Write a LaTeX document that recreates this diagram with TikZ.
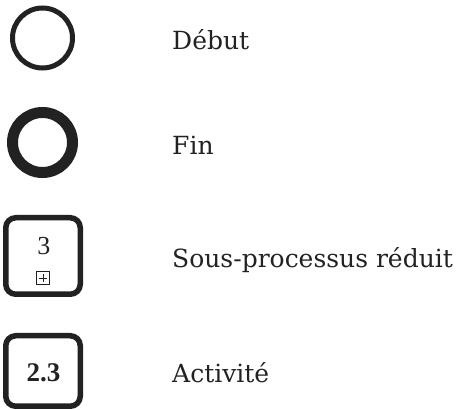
\documentclass[tikz,border=0pt]{standalone}
\usepackage{fontspec}
\setmainfont{DejaVu Serif}
\newfontfamily\boxfont{Liberation Serif}
\definecolor{ink}{HTML}{222222}
\begin{document}
\begin{tikzpicture}[x=1pt,y=1pt,
  startev/.style={circle, draw=ink, line width=5pt, minimum size=60pt, inner sep=0pt},
  endev/.style={circle, draw=ink, line width=11pt, minimum size=60pt, inner sep=0pt},
  taskbox/.style={draw=ink, line width=5.5pt, rounded corners=10pt, inner sep=0pt},
  legendlabel/.style={anchor=base west, inner sep=0pt, text=ink, font=\fontsize{25}{28}\selectfont},
  plusbox/.style={draw=ink, line width=0.8pt, minimum size=13pt, inner sep=0pt}
]
\useasboundingbox (0,0) rectangle (456,410);
% shapes
\node[startev] (debut) at (42.5,372) {};
\node[endev] (fin) at (42.5,267.5) {};
\node[taskbox, minimum width=74.5pt, minimum height=76.5pt] (sous) at (43,154) {};
\node[taskbox, minimum width=74.5pt, minimum height=70.5pt] (act) at (43,39) {};
% box contents
\node[text=ink, inner sep=0pt, font=\boxfont\fontsize{26}{28}\selectfont] (sousnum) at (44,164) {3};
\node[plusbox] (plus) at (43,132) {};
\draw[ink, line width=0.8pt] ([yshift=-4pt]plus.center) -- ([yshift=4pt]plus.center);
\draw[ink, line width=0.8pt] ([xshift=-4pt]plus.center) -- ([xshift=4pt]plus.center);
\node[text=ink, inner sep=0pt, font=\boxfont\bfseries\fontsize{27}{30}\selectfont] (actnum) at (43.5,37) {2.3};
% labels
\node[legendlabel] (ldebut) at (172,360) {Début};
\node[legendlabel] (lfin) at (172,255) {Fin};
\node[legendlabel] (lsous) at (172,142) {Sous-processus réduit};
\node[legendlabel] (lact) at (172,27) {Activité};
\end{tikzpicture}
\end{document}
